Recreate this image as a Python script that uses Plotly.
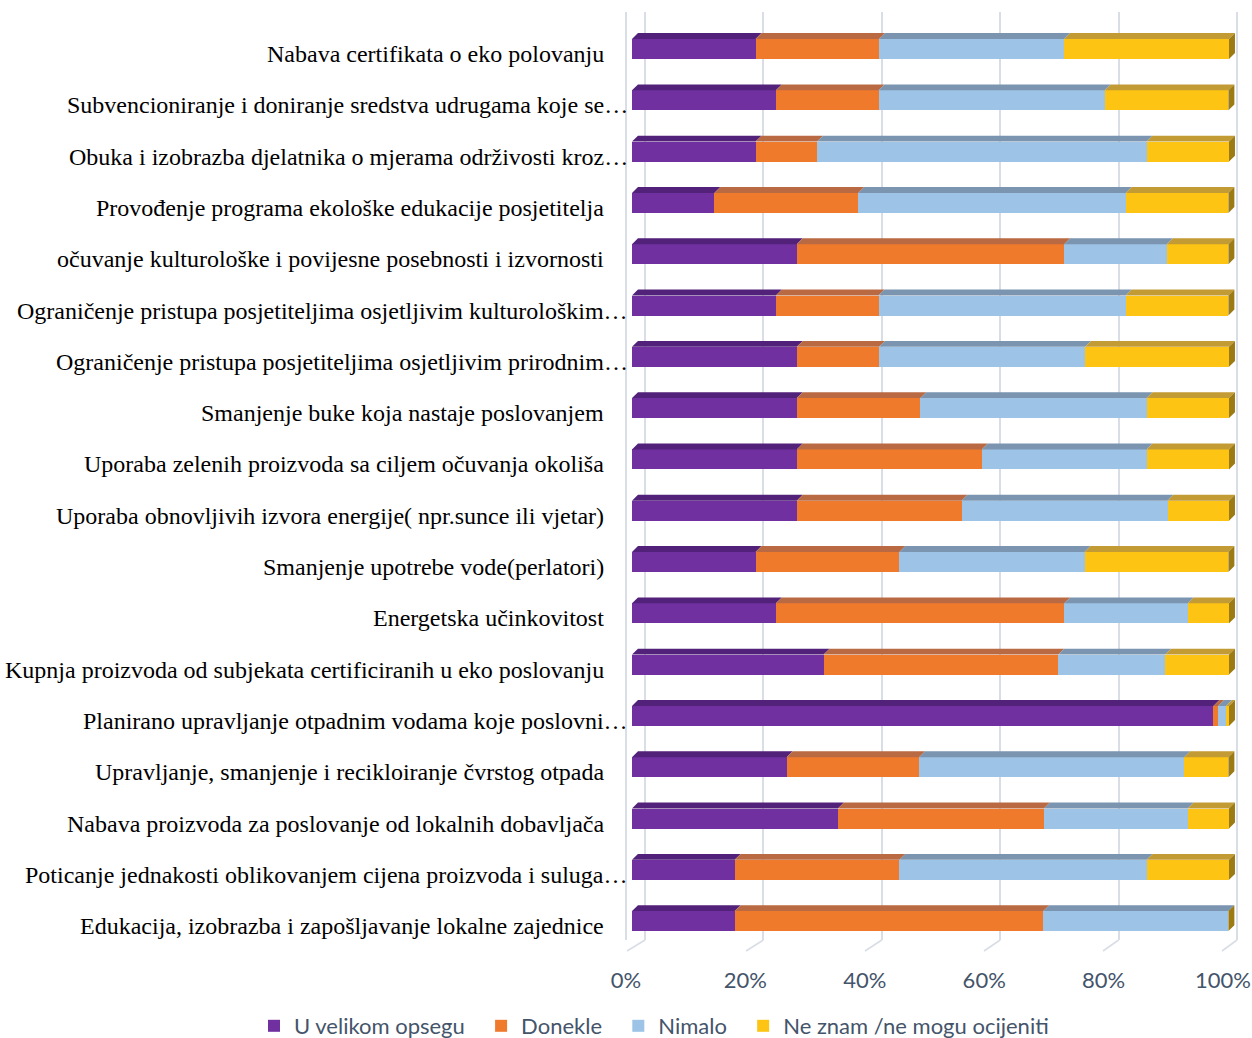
import plotly.graph_objects as go

# ---------------- data ----------------
categories = [
    "Nabava certifikata o eko polovanju",
    "Subvencioniranje i doniranje sredstva udrugama koje se…",
    "Obuka i izobrazba djelatnika o mjerama održivosti kroz…",
    "Provođenje programa ekološke edukacije posjetitelja",
    "očuvanje kulturološke i povijesne posebnosti i izvornosti",
    "Ograničenje pristupa posjetiteljima osjetljivim kulturološkim…",
    "Ograničenje pristupa posjetiteljima osjetljivim prirodnim…",
    "Smanjenje buke koja nastaje poslovanjem",
    "Uporaba zelenih proizvoda sa ciljem očuvanja okoliša",
    "Uporaba obnovljivih izvora energije( npr.sunce ili vjetar)",
    "Smanjenje upotrebe vode(perlatori)",
    "Energetska učinkovitost",
    "Kupnja proizvoda od subjekata certificiranih u eko poslovanju",
    "Planirano upravljanje otpadnim vodama koje poslovni…",
    "Upravljanje, smanjenje i recikloiranje čvrstog otpada",
    "Nabava proizvoda za poslovanje od lokalnih dobavljača",
    "Poticanje jednakosti oblikovanjem cijena proizvoda i suluga…",
    "Edukacija, izobrazba i zapošljavanje lokalne zajednice",
]
series_names = ["U velikom opsegu", "Donekle", "Nimalo", "Ne znam /ne mogu ocijeniti"]
u_velikom = [20.7, 24.1, 20.7, 13.8, 27.6, 24.1, 27.6, 27.6, 27.6, 27.6, 20.7, 24.1, 32.1, 97.4, 25.9, 34.5, 17.2, 17.2]
donekle   = [20.7, 17.2, 10.3, 24.1, 44.8, 17.2, 13.8, 20.7, 31.0, 27.6, 24.1, 48.3, 39.3, 0.8, 22.2, 34.5, 27.6, 51.7]
nimalo    = [31.0, 37.9, 55.2, 44.8, 17.2, 41.4, 34.5, 37.9, 27.6, 34.5, 31.0, 20.7, 17.9, 1.3, 44.4, 24.1, 41.4, 31.0]
ne_znam   = [27.6, 20.7, 13.8, 17.2, 10.3, 17.2, 24.1, 13.8, 13.8, 10.3, 24.1, 6.9, 10.7, 0.5, 7.4, 6.9, 13.8, 0.0]
tick_vals = [0, 20, 40, 60, 80, 100]
tick_text = ["0%", "20%", "40%", "60%", "80%", "100%"]

# ---------------- styles ----------------
front_colors = ["#7030a0", "#f07a2c", "#9dc3e6", "#fdc413"]
top_colors = ["#52217a", "#b96a42", "#7b95b1", "#c39b34"]
side_color = "#9c7a14"
grid_color = "#d9dde5"
tick_font = dict(family="Lato, 'Open Sans', sans-serif", size=22, color="#44546a")
label_font = dict(family="'Liberation Serif', 'Times New Roman', serif", size=24, color="#000000")
legend_pad = "\u00a0\u00a0"   # extra spacing after legend entries

W, HGT = 1252, 1038
# bar subplot pixel mapping
BX0, BXS = 632.0, 5.97     # px of 0%, px per %
BY0, BYS = 49.0, 51.3      # px of first row centre, px per row
bar_dom_px = (620, W)
bar_ydom_px = (10, 962)
# grid (back wall) mapping
GX0, GXS = 645.0, 5.92
grid_dom_px = (627, W)
grid_ydom_px = (12, 940)

H = 0.195    # half height of front face (row units)
DX = 1.0     # depth offset in % units
DY = 0.115   # depth offset in row units

series = [u_velikom, donekle, nimalo, ne_znam]
n = len(categories)
rows = list(range(n))

fig = go.Figure()

# invisible trace to establish the grid subplot
fig.add_trace(go.Scatter(x=[None], y=[None], xaxis="x", yaxis="y", showlegend=False, hoverinfo="skip"))

# front faces
for k, (name, vals, col) in enumerate(zip(series_names, series, front_colors)):
    shown = name + (legend_pad if k < len(series_names) - 1 else "")
    fig.add_trace(go.Bar(
        y=rows, x=vals, orientation="h", name=shown, width=2 * H,
        marker=dict(color=col, line=dict(width=0)),
        xaxis="x2", yaxis="y2",
    ))

# top faces (parallelograms), computed from cumulative values
cum = [0.0] * n
for k, (vals, tcol) in enumerate(zip(series, top_colors)):
    xs, ys = [], []
    for i in rows:
        a = cum[i]
        b = cum[i] + vals[i]
        if vals[i] > 0:
            xs += [a, b, b + DX, a + DX, a, None]
            ys += [i - H, i - H, i - H - DY, i - H - DY, i - H, None]
        cum[i] = b
    fig.add_trace(go.Scatter(
        x=xs, y=ys, mode="lines", fill="toself", fillcolor=tcol,
        line=dict(width=0, color=tcol), showlegend=False, hoverinfo="skip",
        xaxis="x2", yaxis="y2",
    ))

# right side faces
xs, ys = [], []
for i in rows:
    e = cum[i]
    xs += [e, e + DX, e + DX, e, e, None]
    ys += [i - H, i - H - DY, i + H - DY, i + H, i - H, None]
fig.add_trace(go.Scatter(
    x=xs, y=ys, mode="lines", fill="toself", fillcolor=side_color,
    line=dict(width=0, color=side_color), showlegend=False, hoverinfo="skip",
    xaxis="x2", yaxis="y2",
))

# floor lines joining back-wall gridlines to the front edge
floor_back_y = (940 - BY0) / BYS
floor_front_y = (951 - BY0) / BYS
fx, fy = [], []
for v in tick_vals:
    back_px = GX0 + GXS * v
    front_px = 627 + 5.95 * v
    fx += [(back_px - BX0) / BXS, (front_px - BX0) / BXS, None]
    fy += [floor_back_y, floor_front_y, None]
fig.add_trace(go.Scatter(
    x=fx, y=fy, mode="lines", line=dict(color=grid_color, width=1.6),
    showlegend=False, hoverinfo="skip", xaxis="x2", yaxis="y2",
))

# category labels
annotations = []
for i, c in enumerate(categories):
    xr = 630 if c.endswith("…") else 606
    annotations.append(dict(
        x=xr / W, xref="paper", y=i, yref="y2", text=c, showarrow=False,
        xanchor="right", yanchor="middle", yshift=-5, font=label_font,
    ))

def fx_dom(px):
    return [px[0] / W, px[1] / W]

def fy_dom(px):
    return [1 - px[1] / HGT, 1 - px[0] / HGT]

fig.update_layout(
    width=W, height=HGT,
    margin=dict(l=0, r=0, t=0, b=0, autoexpand=False),
    paper_bgcolor="white", plot_bgcolor="rgba(0,0,0,0)",
    barmode="stack",
    showlegend=True,
    legend=dict(
        orientation="h", x=654 / W, xanchor="center", y=1 - 1026 / HGT, yanchor="middle",
        font=tick_font, traceorder="normal",
    ),
    xaxis=dict(
        domain=fx_dom(grid_dom_px),
        range=[(grid_dom_px[0] - GX0) / GXS, (grid_dom_px[1] - GX0) / GXS],
        tickvals=tick_vals, showticklabels=False, showgrid=True, gridcolor=grid_color,
        gridwidth=1.6, zeroline=False, showline=False, fixedrange=True, anchor="y",
    ),
    yaxis=dict(
        domain=fy_dom(grid_ydom_px), range=[0, 1], showgrid=False, zeroline=False,
        showticklabels=False, showline=True, linecolor=grid_color, linewidth=1.6,
        anchor="x", fixedrange=True,
    ),
    xaxis2=dict(
        domain=fx_dom(bar_dom_px),
        range=[(bar_dom_px[0] - BX0) / BXS, (bar_dom_px[1] - BX0) / BXS],
        tickvals=tick_vals, ticktext=tick_text, showgrid=False, zeroline=False,
        showline=False, ticks="", tickfont=tick_font, ticklabelshift=-6,
        ticklabelstandoff=3, anchor="y2", automargin=False,
    ),
    yaxis2=dict(
        domain=fy_dom(bar_ydom_px),
        range=[(bar_ydom_px[1] - BY0) / BYS, (bar_ydom_px[0] - BY0) / BYS],
        showgrid=False, zeroline=False, showticklabels=False, showline=False,
        anchor="x2", automargin=False,
    ),
    annotations=annotations,
)

fig.write_html("out.html", config={"displayModeBar": False},
               post_script="document.body.style.margin='0';")
